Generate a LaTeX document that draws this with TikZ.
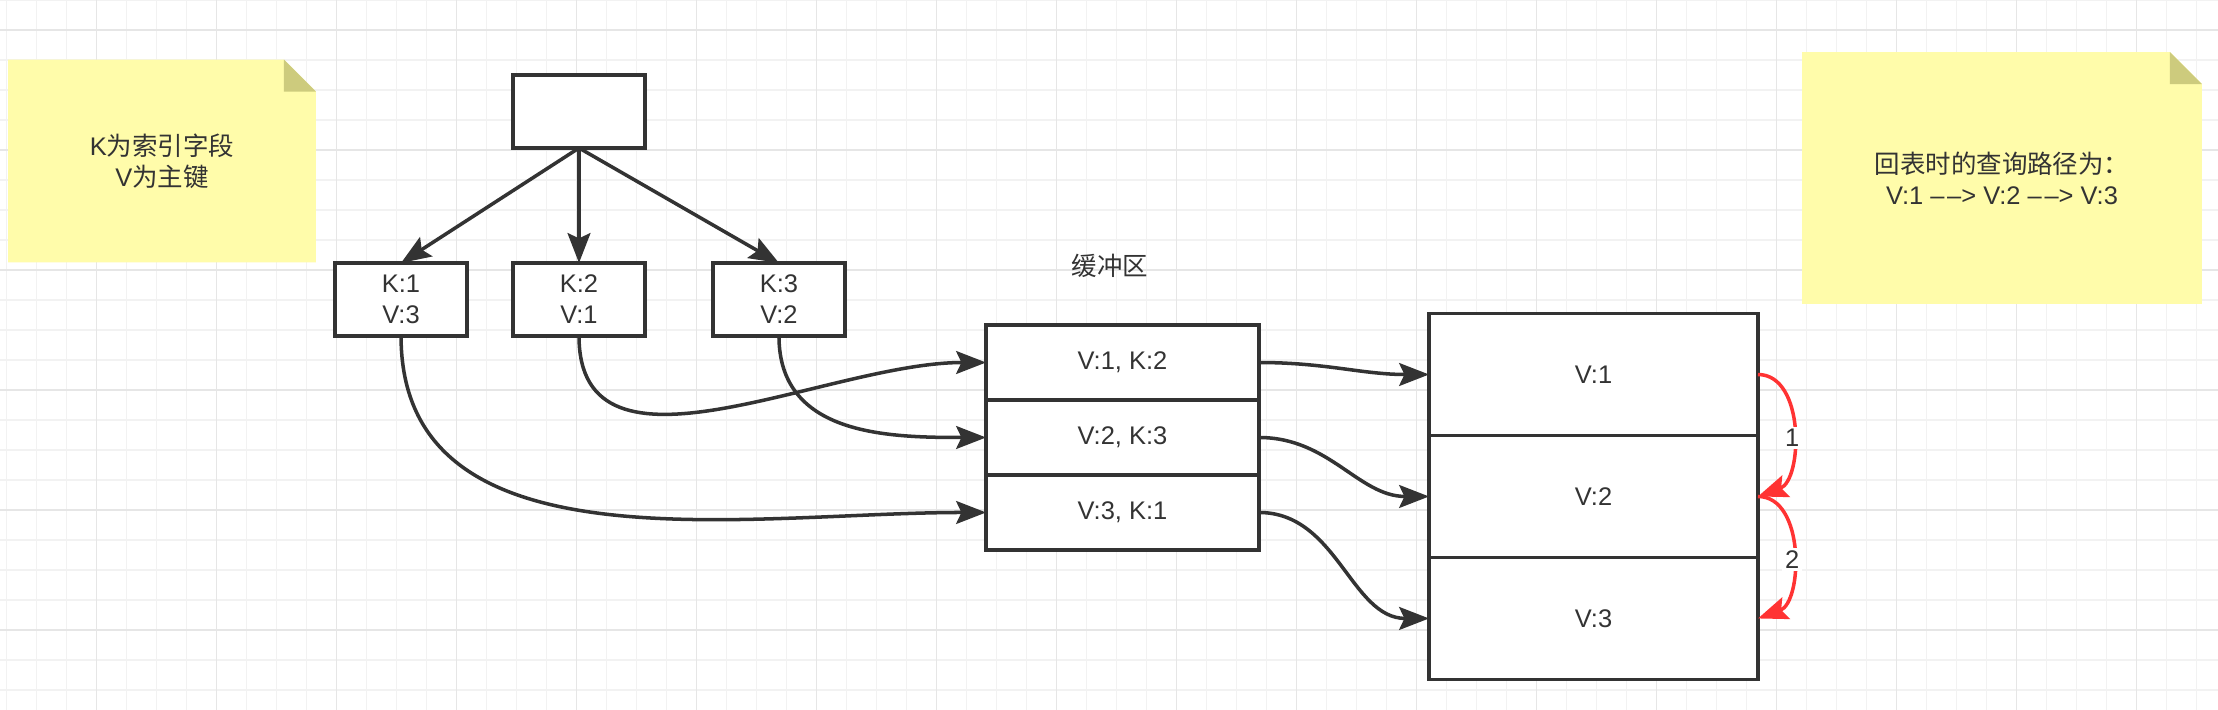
\documentclass[tikz,border=0pt]{standalone}
\usepackage{fontspec}
\setmainfont{Liberation Sans}
\newfontfamily\cjk{Noto Sans CJK SC}
\usepackage{tikz}
\usetikzlibrary{arrows.meta, positioning, calc, backgrounds}
\usepackage{xcolor}
\definecolor{ink}{HTML}{333333}
\definecolor{hop}{HTML}{FF3333}
\definecolor{notebg}{HTML}{FFFCAA}
\definecolor{notefold}{HTML}{CDCB7D}
\definecolor{gridlo}{HTML}{F2F2F2}
\definecolor{gridhi}{HTML}{E6E6E6}

\begin{document}
\begin{tikzpicture}[
    x=0.02cm, y=0.02cm,
    every node/.style={font=\fontsize{14.5}{17.6}\selectfont, text=ink},
    box/.style={draw=ink, line width=2pt, fill=white, outer sep=0pt, minimum width=2.64cm, minimum height=1.46cm, align=center},
    buf/.style={box, minimum width=5.46cm, minimum height=1.5cm},
    rec/.style={box, minimum width=6.58cm, minimum height=2.44cm},
    note/.style={minimum width=6.16cm, minimum height=4.06cm, align=center, inner sep=0pt, outer sep=0pt},
    arr/.style={-{Stealth[length=17pt, width=13pt, inset=3pt]}, line width=2pt, draw=ink},
    back/.style={arr, draw=hop, line width=2pt},
    num/.style={fill=white, inner sep=1.5pt},
    gridminor/.style={draw=gridlo, line width=0.8pt},
    gridmajor/.style={draw=gridhi, line width=0.8pt}
]
    \useasboundingbox (0,0) rectangle (2218,-710);

    % grid paper
    \begin{scope}[on background layer]
        \fill[white] (0,0) rectangle (2218,-710);
        \foreach \gx in {6.7,36.7,...,2218} \draw[gridminor] (\gx,0) -- (\gx,-710);
        \foreach \gy in {0,30,...,710} \draw[gridminor] (0,-\gy) -- (2218,-\gy);
        \foreach \gx in {96.7,216.7,...,2218} \draw[gridmajor] (\gx,0) -- (\gx,-710);
        \foreach \gy in {30,150,...,710} \draw[gridmajor] (0,-\gy) -- (2218,-\gy);
    \end{scope}

    \node[note] (keys) at (162,-161) {K{\cjk 为索引字段}\\V{\cjk 为主键}};
    \node[note, minimum width=8cm, minimum height=5.04cm] (route) at (2002,-178)
        {{\cjk 回表时的查询路径为：}\\ V:1 –\kern1.5pt–> V:2 –\kern1.5pt–> V:3};

    \begin{scope}[on background layer]
        \foreach \n in {keys, route} {
            \fill[notebg] (\n.north west) -- ($(\n.north east)+(-32,0)$) -- ($(\n.north east)+(0,-32)$)
                -- (\n.south east) -- (\n.south west) -- cycle;
            \fill[notefold] ($(\n.north east)+(-32,0)$) -- ($(\n.north east)+(-32,-32)$)
                -- ($(\n.north east)+(0,-32)$) -- cycle;
        }
    \end{scope}

    \node[box] (root) at (579,-111.5) {};
    \node[box, below=2.3cm of root] (k2) {K:2\\V:1};
    \node[box, left=0.92cm of k2] (k1) {K:1\\V:3};
    \node[box, right=1.36cm of k2] (k3) {K:3\\V:2};

    \node (buflabel) at (1110,-266) {\cjk 缓冲区};
    \node[buf] (b1) at (1122.5,-362.5) {V:1, K:2};
    \node[buf, below=0pt of b1] (b2) {V:2, K:3};
    \node[buf, below=0pt of b2] (b3) {V:3, K:1};

    \node[rec] (t1) at (1593.5,-374.5) {V:1};
    \node[rec, below=0pt of t1] (t2) {V:2};
    \node[rec, below=0pt of t2] (t3) {V:3};

    \draw[arr] (root.south) -- (k1.north);
    \draw[arr] (root.south) -- (k2.north);
    \draw[arr] (root.south) -- (k3.north);

    \draw[arr] (k1.south) to[out=-90, in=180] (b3.west);
    \draw[arr] (k2.south) to[out=-90, in=180] (b1.west);
    \draw[arr] (k3.south) to[out=-90, in=180, looseness=1.1] (b2.west);

    \draw[arr] (b1.east) to[out=0, in=180] (t1.west);
    \draw[arr] (b2.east) to[out=0, in=180] (t2.west);
    \draw[arr] (b3.east) to[out=0, in=180] (t3.west);

    \draw[back] (t1.east) to[out=0, in=20] node[num, pos=0.55] {1} (t2.east);
    \draw[back] (t2.east) to[out=0, in=20] node[num, pos=0.55] {2} (t3.east);
\end{tikzpicture}
\end{document}
